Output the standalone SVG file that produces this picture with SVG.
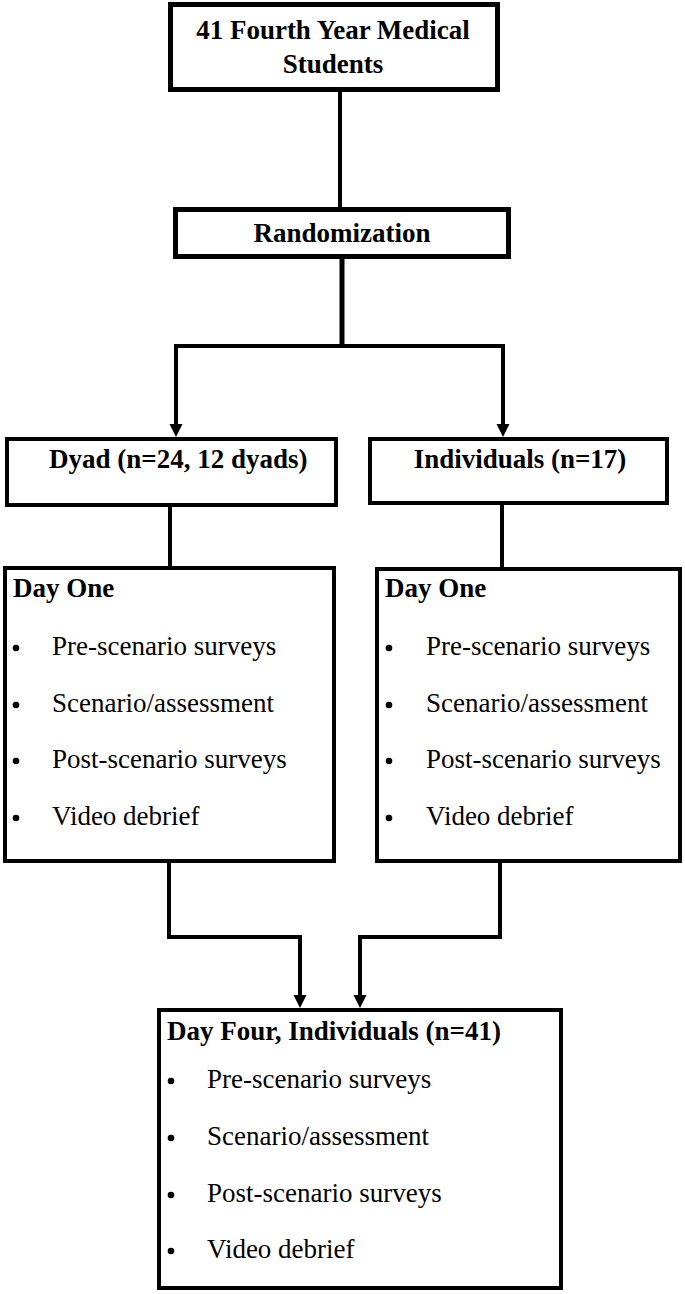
<svg xmlns="http://www.w3.org/2000/svg" width="685" height="1294" viewBox="0 0 685 1294">
<style>
.box{fill:#fff;stroke:#000;stroke-width:4}
.thick{stroke-width:5}
.t{font-family:"Liberation Serif","Times New Roman",serif;font-size:27px;fill:#000}
.b{font-weight:bold}
.m{text-anchor:middle}
.c{fill:none;stroke:#000;stroke-width:4}
.dot{fill:#000}
</style>
<defs>
<marker id="arr" markerUnits="userSpaceOnUse" markerWidth="14" markerHeight="14" refX="5" refY="6.5" orient="auto">
<path d="M0,0 L13,6.5 L0,13 z" fill="#000"/>
</marker>
</defs>
<rect width="685" height="1294" fill="#fff"/>
<g id="connectors">
<path class="c" d="M340 92 V207"/>
<path class="c" style="stroke-width:5" d="M342 259 V346"/>
<path class="c" d="M176 346 H503"/>
<path class="c" d="M176 344 V429" marker-end="url(#arr)"/>
<path class="c" d="M503 344 V429" marker-end="url(#arr)"/>
<path class="c" d="M170 507 V566"/>
<path class="c" d="M502 505 V567"/>
<path class="c" d="M169 863 V937 H300 V1000" marker-end="url(#arr)"/>
<path class="c" d="M500 863 V937 H360 V1000" marker-end="url(#arr)"/>
</g>
<g id="students">
<rect class="box thick" x="170.5" y="4.5" width="327" height="85"/>
<text class="t b m" x="333" y="39">41 Fourth Year Medical</text>
<text class="t b m" x="333" y="73">Students</text>
</g>
<g id="randomization">
<rect class="box thick" x="175.5" y="209.5" width="333" height="47"/>
<text class="t b m" x="342" y="242">Randomization</text>
</g>
<g id="dyad">
<rect class="box" x="7" y="439" width="329" height="66"/>
<text class="t b" x="49" y="468">Dyad (n=24, 12 dyads)</text>
</g>
<g id="individuals">
<rect class="box" x="370" y="439" width="297" height="64"/>
<text class="t b m" x="520" y="468">Individuals (n=17)</text>
</g>
<g id="dayone-dyad">
<rect class="box" x="5" y="568" width="329" height="293"/>
<text class="t b" x="13" y="597">Day One</text>
<circle class="dot" cx="16" cy="648" r="3.3"/>
<text class="t" x="52" y="655">Pre-scenario surveys</text>
<circle class="dot" cx="16" cy="705" r="3.3"/>
<text class="t" x="52" y="712">Scenario/assessment</text>
<circle class="dot" cx="16" cy="761" r="3.3"/>
<text class="t" x="52" y="768">Post-scenario surveys</text>
<circle class="dot" cx="16" cy="818" r="3.3"/>
<text class="t" x="52" y="825">Video debrief</text>
</g>
<g id="dayone-individuals">
<rect class="box" x="377" y="569" width="303" height="292"/>
<text class="t b" x="385" y="597">Day One</text>
<circle class="dot" cx="389" cy="648" r="3.3"/>
<text class="t" x="426" y="655">Pre-scenario surveys</text>
<circle class="dot" cx="389" cy="705" r="3.3"/>
<text class="t" x="426" y="712">Scenario/assessment</text>
<circle class="dot" cx="389" cy="761" r="3.3"/>
<text class="t" x="426" y="768">Post-scenario surveys</text>
<circle class="dot" cx="389" cy="818" r="3.3"/>
<text class="t" x="426" y="825">Video debrief</text>
</g>
<g id="dayfour">
<rect class="box" x="159" y="1010" width="402" height="278"/>
<text class="t b" x="167" y="1040">Day Four, Individuals (n=41)</text>
<circle class="dot" cx="171" cy="1081" r="3.3"/>
<text class="t" x="207" y="1088">Pre-scenario surveys</text>
<circle class="dot" cx="171" cy="1138" r="3.3"/>
<text class="t" x="207" y="1145">Scenario/assessment</text>
<circle class="dot" cx="171" cy="1195" r="3.3"/>
<text class="t" x="207" y="1202">Post-scenario surveys</text>
<circle class="dot" cx="171" cy="1251" r="3.3"/>
<text class="t" x="207" y="1258">Video debrief</text>
</g>
</svg>
